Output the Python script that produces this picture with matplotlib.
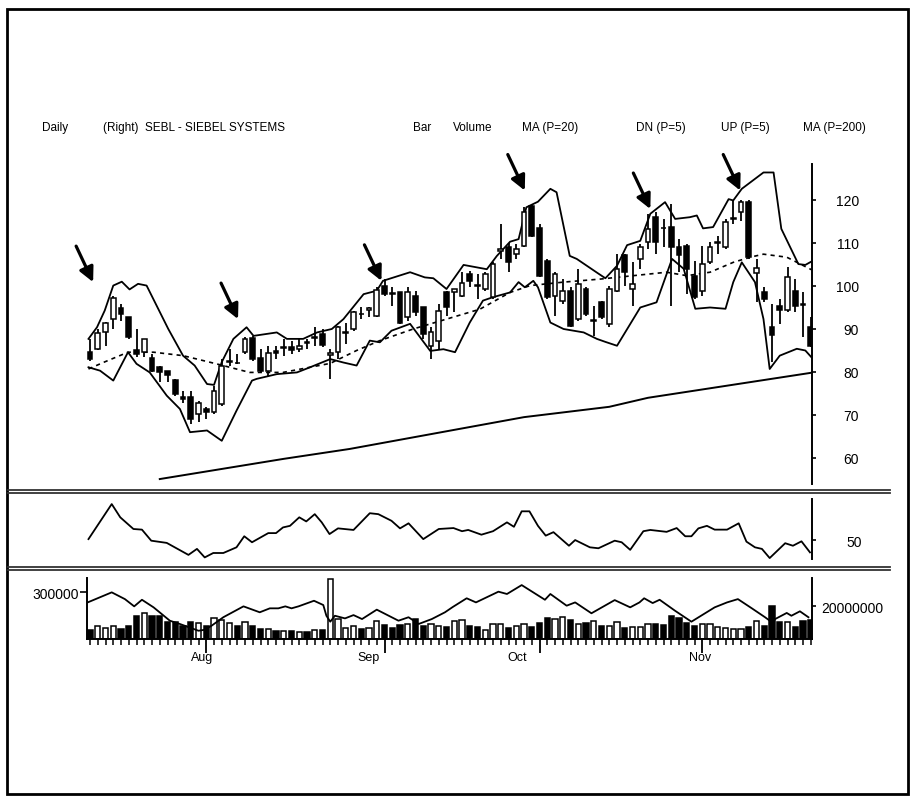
import matplotlib.pyplot as plt
from matplotlib.patches import Rectangle
from matplotlib.lines import Line2D
from matplotlib.transforms import blended_transform_factory

plt.rcParams['font.family'] = ['Liberation Sans', 'DejaVu Sans']

# daily candles, Jul - Nov
opens = [84.6, 85.3, 89.2, 92.3, 94.8, 92.7, 85.0, 84.6, 83.2, 81.1,
         80.3, 78.2, 74.2, 74.1, 70.2, 71.5, 70.6, 72.6, 82.3, 82.2,
         84.6, 87.8, 83.2, 80.3, 84.8, 85.6, 85.9, 85.4, 87.0, 88.0,
         88.8, 84.0, 84.6, 89.0, 90.0, 93.6, 94.4, 93.1, 100.1, 98.4,
         98.5, 92.7, 97.7, 95.0, 86.1, 87.3, 98.5, 98.5, 97.7, 102.8,
         100.2, 99.3, 97.4, 108.1, 109.0, 107.4, 109.4, 118.7, 113.6, 105.9,
         97.7, 96.6, 98.9, 92.3, 99.3, 91.8, 96.2, 91.2, 98.9, 107.1,
         99.3, 106.3, 110.2, 116.0, 113.6, 113.7, 109.0, 109.4, 102.4, 98.9,
         105.5, 110.0, 109.0, 115.5, 117.1, 119.5, 103.0, 98.5, 90.4, 95.4,
         94.3, 98.9, 95.9, 90.4]
highs = [87.7, 90.0, 91.6, 97.6, 95.8, 92.7, 90.0, 87.7, 84.2, 81.5,
         80.3, 78.4, 75.6, 75.6, 73.3, 71.8, 76.8, 83.0, 85.3, 84.2,
         88.1, 88.4, 85.3, 86.1, 86.1, 87.7, 87.3, 87.7, 87.7, 90.4,
         90.0, 85.3, 90.8, 91.5, 94.2, 95.0, 95.0, 99.7, 101.6, 99.7,
         98.5, 99.7, 98.9, 95.0, 90.4, 95.8, 98.9, 99.3, 103.2, 103.6,
         102.8, 103.2, 105.5, 114.4, 110.1, 109.8, 118.3, 119.1, 114.4, 106.3,
         103.2, 101.6, 99.7, 103.9, 99.7, 95.4, 96.6, 100.1, 107.5, 107.5,
         105.5, 109.8, 116.8, 117.1, 115.6, 119.1, 110.9, 109.8, 105.9, 109.4,
         110.2, 111.7, 115.6, 119.9, 119.9, 119.9, 106.3, 99.7, 95.8, 97.0,
         104.4, 101.6, 98.5, 92.7]
lows = [82.6, 85.0, 86.1, 90.0, 91.9, 87.7, 83.4, 83.4, 79.9, 77.6,
        77.6, 74.5, 72.9, 67.9, 68.3, 69.1, 70.2, 72.2, 81.5, 81.9,
        84.2, 82.6, 79.9, 79.1, 83.0, 83.8, 84.2, 84.6, 85.4, 86.1,
        85.7, 78.4, 83.0, 86.5, 89.6, 92.3, 92.7, 92.7, 97.7, 95.4,
        91.2, 91.9, 93.1, 87.7, 83.0, 85.3, 93.1, 93.9, 97.4, 99.7,
        97.0, 98.9, 97.0, 106.3, 103.2, 106.3, 109.0, 111.3, 102.0, 97.0,
        93.1, 95.8, 90.4, 91.9, 93.1, 88.4, 92.3, 90.4, 98.5, 100.1,
        95.4, 104.0, 108.6, 107.5, 109.0, 95.4, 103.2, 98.1, 97.0, 97.7,
        105.1, 107.5, 108.6, 114.4, 115.2, 106.3, 96.2, 96.2, 82.3, 91.2,
        93.9, 93.9, 88.1, 85.7]
closes = [83.0, 89.0, 91.3, 97.1, 93.5, 88.1, 84.2, 87.7, 80.3, 79.9,
          79.3, 74.9, 73.8, 69.1, 72.9, 70.6, 75.6, 81.5, 82.5, 82.0,
          87.7, 83.0, 80.3, 84.3, 84.5, 85.9, 85.2, 86.1, 86.8, 88.2,
          86.3, 84.3, 90.4, 89.4, 94.0, 93.4, 94.8, 99.1, 98.1, 98.2,
          91.5, 98.7, 93.9, 88.8, 89.2, 94.2, 95.0, 99.3, 100.8, 101.2,
          100.0, 102.8, 105.1, 108.6, 105.5, 108.6, 117.1, 111.7, 102.4, 97.4,
          102.8, 98.9, 90.8, 100.4, 93.5, 92.0, 92.7, 99.3, 104.0, 103.2,
          100.5, 109.0, 113.3, 110.2, 113.4, 109.0, 107.1, 104.0, 97.4, 105.1,
          109.0, 110.3, 114.8, 115.7, 119.5, 106.7, 104.2, 97.0, 88.5, 94.3,
          102.0, 95.4, 95.6, 86.1]

# volume in millions
volume = [5.5, 7.7, 6.7, 7.7, 6.1, 8.1, 13.7, 15.6, 14.1, 13.7,
          10.5, 10.6, 7.7, 10.1, 9.5, 7.7, 12.5, 11.7, 9.7, 8.1,
          10.1, 7.7, 6.1, 6.3, 5.0, 5.0, 5.0, 4.0, 4.4, 5.7,
          5.7, 36.4, 12.1, 6.7, 7.9, 6.1, 6.7, 10.7, 8.5, 6.7,
          8.5, 9.1, 12.1, 7.9, 9.1, 7.9, 7.5, 11.2, 11.7, 7.9,
          7.3, 5.7, 9.1, 9.1, 6.7, 7.9, 9.1, 7.1, 9.7, 12.5,
          12.1, 13.1, 11.7, 9.1, 9.7, 11.1, 7.9, 7.9, 10.1, 6.7,
          7.5, 7.5, 9.1, 9.1, 8.5, 13.7, 12.7, 9.5, 7.9, 9.1,
          9.1, 7.1, 6.7, 6.1, 6.1, 7.5, 11.1, 7.9, 20.2, 10.5,
          10.5, 7.1, 11.1, 11.5]

# bands and averages (day index, price)
upper_idx = [-0.2, 0.9, 1.9, 3.0, 4.1, 5.1, 6.2, 7.3, 10.1, 12.0, 13.5, 15.1, 16.0,
             17.0, 18.5, 20.2, 21.1, 24.1, 25.4, 27.5, 29.3, 31.2, 32.7, 35.3, 37.0,
             37.8, 41.3, 43.2, 44.3, 46.0, 48.2, 51.2, 52.5, 54.2, 55.3, 56.3, 57.8,
             59.4, 60.2, 61.9, 62.8, 65.5, 66.5, 68.0, 69.3, 71.0, 72.3, 74.2, 75.5,
             77.4, 78.3, 79.1, 80.4, 82.4, 83.0, 84.1, 86.9, 88.2, 89.2, 91.4, 92.3, 93.3]
upper_val = [87.7, 90.4, 94.3, 100.1, 101.0, 99.2, 100.5, 100.1, 90.0, 83.8, 81.5, 77.2, 77.0,
             82.3, 87.7, 90.4, 88.4, 89.2, 87.7, 87.7, 89.2, 90.0, 92.3, 98.1, 98.9,
             101.2, 103.2, 102.0, 101.8, 99.3, 104.9, 103.9, 107.0, 110.3, 110.9, 118.3, 119.6,
             122.6, 121.8, 107.0, 106.3, 103.0, 101.8, 104.7, 109.5, 110.5, 116.8, 119.5, 115.6,
             116.0, 116.4, 113.4, 113.7, 120.2, 119.9, 122.6, 126.4, 126.4, 113.3, 105.1, 104.9, 105.9]
lower_idx = [-0.2, 1.3, 3.0, 4.9, 6.0, 7.7, 9.9, 11.6, 12.9, 15.1, 17.0, 18.9, 20.9,
             21.5, 24.1, 26.7, 28.4, 31.0, 32.7, 34.4, 36.1, 37.4, 38.9, 41.3, 43.9,
             45.6, 47.1, 49.0, 50.7, 52.0, 54.2, 55.3, 56.1, 57.2, 57.8, 59.4, 61.1,
             63.7, 65.4, 66.5, 68.0, 71.0, 73.1, 75.1, 76.6, 78.1, 80.0, 82.0, 83.0,
             84.1, 85.8, 86.9, 87.7, 89.0, 91.2, 92.3, 93.3]
lower_val = [81.1, 80.3, 78.0, 84.6, 81.9, 79.9, 74.5, 71.4, 66.0, 66.4, 64.0, 71.0, 78.0,
             78.4, 79.5, 79.9, 81.1, 83.0, 82.2, 81.5, 87.3, 86.9, 89.6, 91.2, 84.9,
             85.3, 84.6, 91.5, 96.6, 97.4, 98.5, 100.9, 99.7, 101.2, 99.7, 91.5, 90.0,
             89.2, 87.7, 87.0, 86.1, 95.0, 96.2, 106.3, 104.0, 94.7, 95.0, 94.7, 100.9,
             105.5, 100.9, 92.3, 80.7, 83.8, 85.4, 85.0, 83.0]
ma20_idx = [-0.2, 1.7, 4.9, 8.2, 12.0, 16.3, 20.6, 24.9, 31.0, 34.4, 37.4, 41.7, 46.0,
            50.3, 54.2, 56.8, 61.1, 65.8, 70.1, 74.4, 77.0, 80.0, 83.0, 85.2, 86.9,
            89.9, 93.3]
ma20_val = [80.7, 82.2, 84.6, 84.6, 83.8, 81.9, 79.9, 79.9, 82.0, 85.0, 87.3, 90.0, 92.3,
            94.6, 98.5, 100.1, 100.9, 101.6, 102.4, 103.2, 102.4, 103.2, 105.5, 106.7, 107.4,
            106.7, 103.6]
ma200_idx = [9, 25, 33.5, 56, 67, 72, 93]
ma200_val = [55.1, 59.8, 62.1, 69.5, 71.9, 74.0, 79.8]

# oscillator panel
osc_idx = [-0.2, 2.8, 3.9, 5.6, 6.7, 7.9, 9.9, 12.7, 13.8, 14.8, 15.9, 17.2, 18.9, 19.9,
           20.9, 23.0, 24.0, 24.9, 25.8, 27.0, 27.9, 29.0, 29.9, 30.9, 32.0, 34.0, 36.1,
           37.2, 38.9, 40.0, 41.1, 43.0, 45.0, 46.9, 48.0, 48.8, 50.5, 52.0, 53.8, 54.7,
           55.7, 56.7, 57.8, 58.8, 59.8, 61.8, 62.6, 64.5, 65.6, 67.7, 68.6, 69.7, 71.4,
           72.3, 74.4, 75.7, 76.8, 77.6, 78.5, 79.6, 80.6, 82.2, 83.7, 84.7, 85.8, 86.7,
           87.7, 89.7, 90.7, 91.8, 92.9]
osc_val = [50.3, 61.4, 57.2, 53.5, 53.3, 49.8, 49.1, 45.3, 47.2, 44.5, 45.9, 45.9, 47.7, 51.2,
           49.3, 52.2, 52.2, 54.0, 54.5, 57.2, 55.9, 58.2, 55.6, 51.9, 53.7, 53.2, 58.5,
           58.2, 56.1, 53.7, 55.3, 50.3, 53.5, 53.8, 52.8, 53.2, 51.7, 52.8, 55.6, 54.2,
           59.1, 59.1, 54.5, 51.4, 52.5, 48.2, 50.0, 47.7, 47.4, 49.8, 49.3, 46.9, 52.8,
           53.2, 52.6, 53.8, 51.2, 51.2, 53.7, 54.5, 53.3, 53.3, 55.3, 49.5, 47.7, 47.2,
           44.3, 49.0, 48.2, 49.6, 46.1]

# volume average line
vma_idx = [-0.3, 2.8, 4.5, 5.7, 6.7, 8.2, 10.3, 11.6, 14.0, 14.8, 15.7, 17.2, 19.8, 21.9,
           23.2, 24.3, 25.2, 26.0, 26.9, 28.9, 30.1, 30.5, 31.0, 31.6, 32.9, 34.0, 35.1,
           37.0, 39.8, 41.1, 42.4, 44.1, 45.8, 46.8, 48.6, 49.8, 52.7, 53.8, 55.7, 58.7,
           59.4, 61.5, 62.6, 64.7, 67.7, 69.7, 70.9, 71.5, 72.6, 73.5, 75.5, 77.6, 80.6,
           82.2, 83.6, 85.4, 87.1, 88.0, 88.4, 89.9, 90.5, 91.6, 92.7]
vma_val = [22.2, 28.3, 24.2, 19.8, 23.8, 19.2, 11.1, 9.1, 5.0, 5.6, 8.1, 13.2, 19.8, 16.2,
           18.6, 18.6, 19.8, 18.6, 19.8, 23.2, 20.6, 14.1, 10.5, 14.1, 12.5, 14.5, 12.1,
           17.8, 11.1, 13.2, 9.1, 12.1, 16.2, 19.4, 24.7, 22.2, 28.7, 27.3, 32.7, 23.8,
           27.3, 20.2, 22.2, 15.6, 23.6, 19.2, 22.2, 24.7, 21.8, 23.8, 17.1, 10.5, 19.2,
           22.2, 24.2, 18.6, 13.2, 10.1, 12.1, 15.8, 14.1, 16.8, 13.2]

arrow_idx = [0.4, 19.1, 37.6, 56.1, 72.3, 83.9]
arrow_price = [100.9, 92.3, 101.2, 122.2, 117.9, 122.2]

month_labels = ['Aug', 'Sep', 'Oct', 'Nov']
month_label_idx = [14.5, 36.0, 55.1, 78.7]
month_tick_idx = [15, 38, 58, 79]

header = [(42, 'Daily'), (103, '(Right)  SEBL - SIEBEL SYSTEMS'), (413, 'Bar'),
          (453, 'Volume'), (522, 'MA (P=20)'), (636, 'DN (P=5)'),
          (721, 'UP (P=5)'), (803, 'MA (P=200)')]

W, H = 916, 803


def box(x0, y0, x1, y1):
    return [x0 / W, 1 - y1 / H, (x1 - x0) / W, (y1 - y0) / H]


XL = (-0.39, 93.16)
fig = plt.figure(figsize=(9.16, 8.03), dpi=100)

# ---- price panel
ax = fig.add_axes(box(87, 165, 812, 485))
n = len(opens)
for i in range(n):
    o, h, l, c = opens[i], highs[i], lows[i], closes[i]
    ax.vlines(i, l, h, color='black', lw=1.3, zorder=2)
    up = c >= o
    ax.bar(i, abs(c - o), bottom=min(o, c), width=0.62,
           color='white' if up else 'black', edgecolor='black', lw=1.1, zorder=3)
ax.plot(upper_idx, upper_val, color='black', lw=1.3)
ax.plot(lower_idx, lower_val, color='black', lw=1.3)
ax.plot(ma20_idx, ma20_val, color='black', lw=1.2, ls=(0, (2.5, 2.5)))
ax.plot(ma200_idx, ma200_val, color='black', lw=1.4)
for xi, yi in zip(arrow_idx, arrow_price):
    ax.annotate('', xy=(xi, yi), xytext=(-17, 36), textcoords='offset pixels',
                arrowprops=dict(arrowstyle='-|>', lw=2.3, color='black',
                                mutation_scale=22, shrinkA=0, shrinkB=0))
ax.set_xlim(*XL)
ax.set_ylim(53.95, 128.37)
for s in ['left', 'top', 'bottom']:
    ax.spines[s].set_visible(False)
ax.spines['right'].set_linewidth(1.4)
ax.set_xticks([])
ax.yaxis.tick_right()
ax.set_yticks([60, 70, 80, 90, 100, 110, 120])
ax.tick_params(axis='y', length=3, width=1.2, pad=31, labelsize=10)
for t in ax.get_yticklabels():
    t.set_horizontalalignment('right')

# ---- oscillator panel
ax2 = fig.add_axes(box(87, 500, 812, 560))
ax2.plot(osc_idx, osc_val, color='black', lw=1.3)
ax2.set_xlim(*XL)
ax2.set_ylim(44, 63)
for s in ['left', 'top', 'bottom']:
    ax2.spines[s].set_visible(False)
ax2.spines['right'].set_linewidth(1.4)
ax2.set_xticks([])
ax2.yaxis.tick_right()
ax2.set_yticks([50])
ax2.tick_params(axis='y', length=3, width=1.2, pad=33, labelsize=10)
for t in ax2.get_yticklabels():
    t.set_horizontalalignment('right')

# ---- volume panel
ax3 = fig.add_axes(box(87, 579, 812, 640))
for i in range(n):
    up = closes[i] >= opens[i]
    ax3.bar(i, volume[i], width=0.7, color='white' if up else 'black',
            edgecolor='black', lw=1.1)
ax3.plot(vma_idx, vma_val, color='black', lw=1.3)
ax3.set_xlim(*XL)
ax3.set_ylim(0, 37)
ax3.spines['top'].set_visible(False)
for s in ['left', 'right', 'bottom']:
    ax3.spines[s].set_linewidth(1.4)
ax3.set_yticks([28.5])
ax3.set_yticklabels(['300000'])
ax3.tick_params(axis='y', length=5, width=1.2, pad=1, labelsize=10)
ax3r = ax3.twinx()
ax3r.set_ylim(0, 37)
ax3r.set_yticks([20])
ax3r.set_yticklabels(['20000000'])
ax3r.tick_params(axis='y', length=3, width=1.2, pad=4, labelsize=10)
for s in ['left', 'right', 'bottom', 'top']:
    ax3r.spines[s].set_visible(False)
ax3.set_xticks(month_tick_idx)
ax3.set_xticklabels([])
ax3.set_xticks(range(n), minor=True)
ax3.tick_params(axis='x', which='major', length=10, width=1.3)
ax3.tick_params(axis='x', which='minor', length=4, width=1.1)
tr = blended_transform_factory(ax3.transData, ax3.transAxes)
for lab, xi in zip(month_labels, month_label_idx):
    ax3.text(xi, -0.3, lab, transform=tr, ha='center', va='center', fontsize=9)

# ---- header and frame
for x, s in header:
    fig.text(x / W, 1 - 128 / H, s, ha='left', va='center', fontsize=8.5)

for y in [490.5, 494, 567.5, 571]:
    fig.add_artist(Line2D([8 / W, 890 / W], [1 - y / H, 1 - y / H],
                          transform=fig.transFigure, color='#333333', lw=1.3))
fig.add_artist(Rectangle((7 / W, 1 - 795 / H), 901 / W, 785 / H,
                         transform=fig.transFigure, fill=False, lw=2, color='black'))

fig.savefig('out.png', dpi=100)
